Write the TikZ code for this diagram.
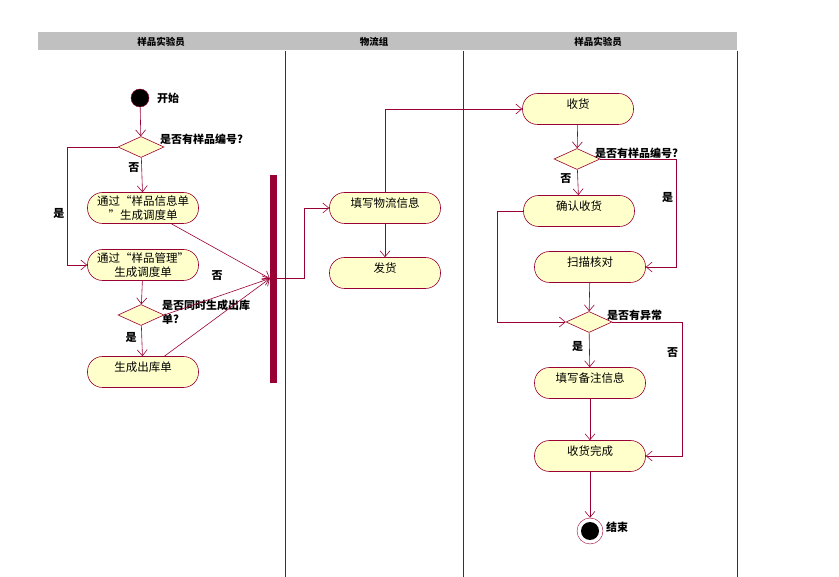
\documentclass[tikz,border=0pt]{standalone}
\usepackage{fontspec}
\setmainfont{Noto Sans CJK SC}
\usepackage{xcolor}
\usepackage{tikz}
\usetikzlibrary{
  arrows.meta,
  positioning,
  shapes.geometric,
  calc
}
\definecolor{FlowRed}{HTML}{990033}
\definecolor{ActYellow}{HTML}{FFFFCC}
\definecolor{HeadGray}{HTML}{C0C0C0}
\tikzset{
  activity/.style={
    draw=FlowRed,
    fill=ActYellow,
    line width=0.6pt,
    rounded corners=15pt,
    align=center,
    inner sep=1pt,
    minimum width=111pt,
    minimum height=31pt,
    font=\fontsize{11.5}{14}\selectfont
  },
  single/.style={
    activity,
    text depth=10pt
  },
  decision/.style={
    diamond,
    draw=FlowRed,
    fill=ActYellow,
    line width=0.6pt,
    inner sep=0pt,
    minimum width=46pt,
    minimum height=21pt
  },
  guard/.style={
    inner sep=0pt,
    align=left,
    font=\bfseries\fontsize{11}{14}\selectfont
  },
  lanetitle/.style={
    inner sep=0pt,
    font=\bfseries\fontsize{9.5}{11}\selectfont
  },
  lane/.style={
    draw=FlowRed,
    line width=0.8pt
  },
  syncbar/.style={
    draw=FlowRed,
    fill=FlowRed,
    inner sep=0pt,
    minimum width=6pt,
    minimum height=207pt
  },
  startnode/.style={
    circle,
    draw=FlowRed,
    fill=black,
    inner sep=0pt,
    minimum size=18pt
  },
  endnode/.style={
    circle,
    draw=FlowRed,
    fill=white,
    inner sep=0pt,
    minimum size=26pt,
    path picture={
      \fill[black] (path picture bounding box.center) circle (9pt);
    }
  },
  flow/.style={
    -{Straight Barb[length=6pt,width=10pt]},
    draw=FlowRed,
    line width=0.6pt
  }
}

\begin{document}
\begin{tikzpicture}[x=1pt, y=-1pt]

  \useasboundingbox (0,0) rectangle (839,577);

  \fill[HeadGray] (38,32) rectangle (737,50);
  \node[lanetitle] (title1) at (161,42) {样品实验员};
  \node[lanetitle] (title2) at (374,42) {物流组};
  \node[lanetitle] (title3) at (598,42) {样品实验员};

  \draw[lane] (285,51) -- (285,577);
  \draw[lane] (463,51) -- (463,577);
  \draw[lane] (737,51) -- (737,577);

  \node[startnode] (start) at (140,98) {};
  \node[guard, anchor=west] (starttext) at (157,98) {开始};

  \node[decision] (sample) at (141,147) {};
  \node[guard, anchor=west] (sampleq) at (160,139) {是否有样品编号?};

  \node[activity] (byinfo) at (143,208) {
    通过“样品信息单\\
    ”生成调度单
  };

  \node[activity] (bymanage) at (143,265) {
    通过“样品管理”\\
    生成调度单
  };

  \node[decision] (outbound) at (141,315) {};
  \node[guard, anchor=north west] (outboundq) at (162,300) {
    是否同时生成出库\\
    单?
  };

  \node[single] (makeout) at (143,372) {生成出库单};

  \node[syncbar] (bar) at (273,278.5) {};

  \node[single] (fillinfo) at (385,208) {填写物流信息};
  \node[single] (ship) at (385,273) {发货};

  \node[single] (receive) at (578,109) {收货};

  \node[decision] (check) at (577,159) {};
  \node[guard, anchor=west] (checkq) at (595,153) {是否有样品编号?};

  \node[single] (confirm) at (579,211) {确认收货};
  \node[single] (scan) at (590,267) {扫描核对};

  \node[decision] (abnormal) at (589,322) {};
  \node[guard, anchor=west] (abnormalq) at (607,315) {是否有异常};

  \node[single] (remark) at (590,383) {填写备注信息};
  \node[single] (finish) at (590,456) {收货完成};

  \node[endnode] (end) at (590,531) {};
  \node[guard, anchor=west] (endtext) at (606,527) {结束};

  \draw[flow] (start) -- (sample);

  \draw[flow]
  (sample) --
  node[guard, pos=0.3, left=2pt] {否}
  (byinfo);

  \draw[flow]
  (sample.west) -- ++(-50,0) |-
  node[guard, pos=0.28, left=3pt] {是}
  (bymanage.west);

  \draw[flow] (bymanage) -- (outbound);

  \draw[flow]
  (outbound) --
  node[guard, pos=0.4, left=5pt] {是}
  (makeout);

  \draw[flow] (byinfo) -- (bar.west);

  \draw[flow]
  (outbound.east) --
  node[guard, pos=0.5, above=16pt] {否}
  (bar.west);

  \draw[flow] (makeout) -- (bar.west);

  \draw[flow] (bar.east) -- ++(28,0) |- (fillinfo.west);

  \draw[flow] (fillinfo) -- (ship);

  \draw[flow] (fillinfo.north) |- (receive.west);

  \draw[flow] (receive) -- (check);

  \draw[flow]
  (check) --
  node[guard, pos=0.35, left=6pt] {否}
  (confirm);

  \draw[flow]
  (check.east) -- ++(76,0) |-
  node[guard, pos=0.18, left=3pt] {是}
  (scan.east);

  \draw[flow] (scan) -- (abnormal);

  \draw[flow] (confirm.west) -- ++(-26,0) |- (abnormal.west);

  \draw[flow]
  (abnormal) --
  node[guard, pos=0.4, left=6pt] {是}
  (remark);

  \draw[flow]
  (abnormal.east) -- ++(70,0) |-
  node[guard, pos=0.115, left=4pt] {否}
  (finish.east);

  \draw[flow] (remark) -- (finish);

  \draw[flow] (finish) -- (end);

\end{tikzpicture}
\end{document}
